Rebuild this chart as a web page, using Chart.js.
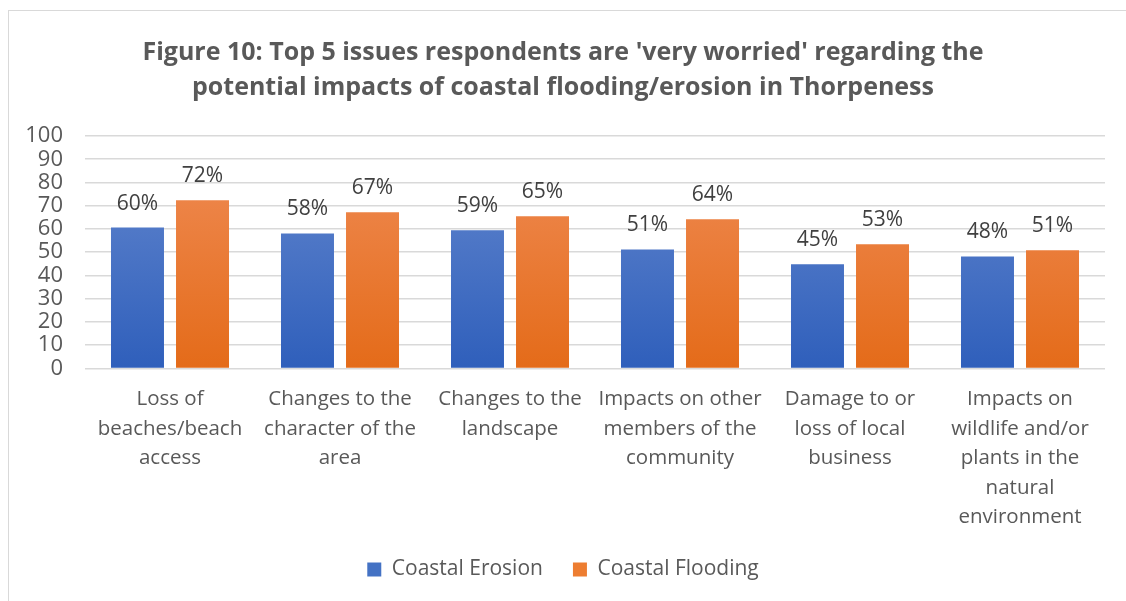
<!DOCTYPE html>
<html>
<head>
<meta charset="utf-8">
<script src="https://cdn.jsdelivr.net/npm/chart.js@4/dist/chart.umd.min.js"></script>
<style>
html,body{margin:0;padding:0;background:#fff;}
#wrap{position:absolute;left:0;top:0;width:1126px;height:601px;}
#frame{position:absolute;left:8px;top:10px;width:1130px;height:600px;border-left:1px solid #d9d9d9;border-top:1px solid #d9d9d9;}
canvas{position:absolute;left:0;top:0;}
</style>
</head>
<body>
<div id="frame"></div>
<div id="wrap"><canvas id="c" width="1126" height="601"></canvas></div>
<script>
const categories = [
  ["Loss of","beaches/beach","access"],
  ["Changes to the","character of the","area"],
  ["Changes to the","landscape"],
  ["Impacts on other","members of the","community"],
  ["Damage to or","loss of local","business"],
  ["Impacts on","wildlife and/or","plants in the","natural","environment"]
];
const erosion = [60.6, 58.1, 59.4, 51.2, 44.8, 48.2];
const flooding = [72.3, 67.2, 65.5, 64.2, 53.4, 50.8];
const erosionLabels = ["60%","58%","59%","51%","45%","48%"];
const floodingLabels = ["72%","67%","65%","64%","53%","51%"];
const yTicks = [0,10,20,30,40,50,60,70,80,90,100];

const FONT = "'Open Sans', 'DejaVu Sans', sans-serif";
const GRAY = '#595959';

function grad(top, bottom){
  return function(ctx){
    const ch = ctx.chart; const a = ch.chartArea;
    if(!a) return bottom;
    const g = ch.ctx.createLinearGradient(0, a.top, 0, a.bottom);
    g.addColorStop(0, top); g.addColorStop(1, bottom);
    return g;
  };
}

const valueLabels = {
  id:'valueLabels',
  afterDatasetsDraw(chart){
    const c = chart.ctx;
    const lbls = [erosionLabels, floodingLabels];
    c.save();
    c.font = "21px " + FONT;
    c.fillStyle = '#404040';
    c.textAlign = 'center';
    c.textBaseline = 'alphabetic';
    chart.data.datasets.forEach((ds,i)=>{
      chart.getDatasetMeta(i).data.forEach((bar,j)=>{
        c.fillText(lbls[i][j], bar.x, bar.y - 18);
      });
    });
    c.restore();
  }
};

new Chart(document.getElementById('c'), {
  type:'bar',
  data:{
    labels: categories,
    datasets:[
      {label:'Coastal Erosion', data: erosion, backgroundColor: grad('#6689cf','#2f5fbb')},
      {label:'Coastal Flooding', data: flooding, backgroundColor: grad('#f08d58','#e46b19')}
    ]
  },
  options:{
    responsive:false,
    animation:false,
    layout:{padding:{left:21,right:21,top:0,bottom:11}},
    datasets:{bar:{categoryPercentage:0.765, barPercentage:0.815}},
    scales:{
      x:{
        grid:{display:false},
        border:{display:false},
        afterFit(s){ s.height -= 11; },
        ticks:{color:GRAY, font:{family:FONT,size:20.5,lineHeight:1.44}, maxRotation:0, minRotation:0, autoSkip:false, padding:8}
      },
      y:{
        min:0, max:100,
        afterFit(s){ s.width = 64; },
        afterBuildTicks(s){ s.ticks = yTicks.map(v=>({value:v})); },
        grid:{color:'#d9d9d9', lineWidth:1.5, drawTicks:false},
        border:{display:false},
        ticks:{color:GRAY, font:{family:FONT,size:22}, padding:22, autoSkip:false}
      }
    },
    plugins:{
      title:{display:true, text:["Figure 10: Top 5 issues respondents are 'very worried' regarding the","potential impacts of coastal flooding/erosion in Thorpeness"], color:GRAY, font:{family:FONT,size:25,weight:'bold',lineHeight:1.4}, padding:{top:35,bottom:31}},
      legend:{position:'bottom', labels:{color:GRAY, font:{family:FONT,size:21}, boxWidth:14, boxHeight:14, padding:30,
        generateLabels(){ return [
          {text:'Coastal Erosion', fillStyle:'#4472c4', strokeStyle:'#4472c4', lineWidth:0, datasetIndex:0, fontColor:GRAY},
          {text:'Coastal Flooding', fillStyle:'#ed7d31', strokeStyle:'#ed7d31', lineWidth:0, datasetIndex:1, fontColor:GRAY}
        ];}}},
      tooltip:{enabled:false}
    }
  },
  plugins:[valueLabels]
});
</script>
</body>
</html>
